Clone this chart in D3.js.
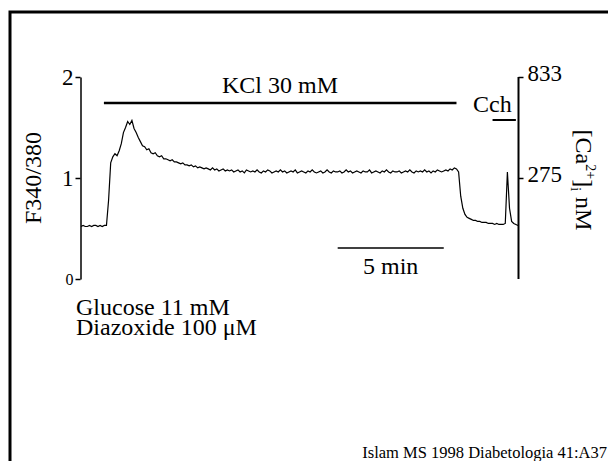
<!DOCTYPE html>
<html>
<head>
<meta charset="utf-8">
<script src="https://cdn.jsdelivr.net/npm/d3@7"></script>
<style>
  body { margin: 0; background: #fff; }
  svg text { font-family: "Liberation Serif", "Times New Roman", serif; fill: #000; }
</style>
</head>
<body>
<div id="chart"></div>
<script>
// sampling interval of the trace (min)
const dt = 0.1;

// F340/380 ratio
const ratio = [
  0.52,0.53,0.52,0.52,0.53,0.52,0.53,0.53,0.52,0.53,0.52,0.53,0.53,
  0.78,1.15,1.21,1.24,1.22,1.27,1.34,1.45,
  1.50,1.56,1.53,1.57,1.49,1.45,1.40,1.36,1.32,1.31,
  1.28,1.29,1.25,1.24,1.25,1.22,1.21,1.22,1.19,1.19,
  1.18,1.17,1.18,1.16,1.16,1.15,1.14,1.15,1.13,1.13,
  1.12,1.13,1.11,1.12,1.10,1.11,1.10,1.09,1.10,1.09,
  1.08,1.10,1.08,1.09,1.07,1.08,1.09,1.07,1.08,1.07,
  1.08,1.06,1.07,1.08,1.06,1.07,1.05,1.08,1.07,1.06,
  1.07,1.06,1.08,1.06,1.05,1.07,1.06,1.08,1.07,1.05,
  1.06,1.07,1.06,1.08,1.06,1.07,1.05,1.06,1.07,1.06,
  1.08,1.05,1.06,1.07,1.06,1.05,1.07,1.06,1.08,1.06,
  1.05,1.06,1.07,1.05,1.06,1.08,1.06,1.05,1.07,1.06,
  1.06,1.07,1.05,1.06,1.08,1.06,1.07,1.05,1.06,1.07,
  1.06,1.05,1.07,1.06,1.06,1.08,1.05,1.06,1.07,1.06,
  1.05,1.07,1.06,1.08,1.06,1.05,1.07,1.06,1.06,1.07,
  1.05,1.06,1.07,1.06,1.08,1.06,1.05,1.07,1.06,1.07,
  1.06,1.08,1.06,1.07,1.05,1.07,1.06,1.08,1.07,1.06,
  1.07,1.08,1.07,1.09,1.08,1.10,1.09,
  1.06,0.82,0.70,0.64,0.61,0.60,0.59,0.58,0.58,0.57,
  0.57,0.56,0.56,0.56,0.55,0.55,0.55,0.54,0.55,0.54,
  0.54,0.54,0.55,1.06,0.70,0.57,0.55,0.54,0.53
];

// left axis ticks (ratio) and right axis ticks ([Ca2+]i nM at same ratio)
const leftTicks = [0, 1, 2];
const leftLabels = ["0", "1", "2"];
const rightTicks = [1, 2];
const rightLabels = ["275", "833"];

// application periods (min)
const kclPeriod = [1.08, 17.7];
const cchPeriod = [19.4, 20.5];
const scaleBar = [12.1, 17.1];

const w = 608, h = 461;
const fs = 24; // main text size

const svg = d3.select("#chart").append("svg")
  .attr("width", w).attr("height", h);

// outer frame (runs off the page at right and bottom)
svg.append("rect")
  .attr("x", 10).attr("y", 12)
  .attr("width", 700).attr("height", 600)
  .attr("fill", "none").attr("stroke", "#000").attr("stroke-width", 3);

const x = d3.scaleLinear().domain([0, 20.6]).range([81, 518]);
const y = d3.scaleLinear().domain([0, 2]).range([279, 77]);

// left axis
const gl = svg.append("g")
  .attr("transform", "translate(80.5,0)")
  .call(d3.axisLeft(y).tickValues(leftTicks)
    .tickFormat((d, i) => leftLabels[i]).tickSize(5).tickSizeOuter(0).tickPadding(2));
gl.select(".domain").attr("stroke-width", 1.5);
gl.selectAll(".tick line").attr("stroke-width", 1.5);
gl.selectAll(".tick text").attr("font-size", 23).attr("font-family", "Liberation Serif");
gl.selectAll(".tick text").filter(d => d === 0)
  .attr("font-size", 16).attr("fill", "#444");

// right axis
const gr = svg.append("g")
  .attr("transform", "translate(518.5,0)")
  .call(d3.axisRight(y).tickValues(rightTicks)
    .tickFormat((d, i) => rightLabels[i]).tickSize(5).tickSizeOuter(0).tickPadding(4));
gr.select(".domain").attr("stroke-width", 2).attr("d", `M0,${y(2)}V${y(0)}`);
gr.selectAll(".tick line").attr("stroke-width", 1.5);
gr.selectAll(".tick text").attr("font-size", 23).attr("font-family", "Liberation Serif")
  .attr("dy", "0.15em");

// trace
const line = d3.line()
  .x((d, i) => x(i * dt))
  .y(d => y(d));
svg.append("path")
  .datum(ratio)
  .attr("d", line)
  .attr("fill", "none")
  .attr("stroke", "#000")
  .attr("stroke-width", 1.2);

// KCl bar
svg.append("line")
  .attr("x1", x(kclPeriod[0])).attr("x2", x(kclPeriod[1]))
  .attr("y1", 103).attr("y2", 103)
  .attr("stroke", "#000").attr("stroke-width", 2.5);
svg.append("text")
  .attr("x", 280).attr("y", 93)
  .attr("text-anchor", "middle").attr("font-size", fs)
  .text("KCl 30 mM");

// Cch bar
svg.append("line")
  .attr("x1", x(cchPeriod[0])).attr("x2", x(cchPeriod[1]))
  .attr("y1", 120).attr("y2", 120)
  .attr("stroke", "#000").attr("stroke-width", 2);
svg.append("text")
  .attr("x", 473).attr("y", 112)
  .attr("font-size", fs)
  .text("Cch");

// 5 min scale bar
svg.append("line")
  .attr("x1", x(scaleBar[0])).attr("x2", x(scaleBar[1]))
  .attr("y1", 248).attr("y2", 248)
  .attr("stroke", "#000").attr("stroke-width", 1.5);
svg.append("text")
  .attr("x", (x(scaleBar[0]) + x(scaleBar[1])) / 2).attr("y", 274)
  .attr("text-anchor", "middle").attr("font-size", fs)
  .text("5 min");

// axis titles
svg.append("text")
  .attr("transform", "translate(41,178) rotate(-90)")
  .attr("text-anchor", "middle").attr("font-size", fs)
  .text("F340/380");

const rt = svg.append("text")
  .attr("transform", "translate(576,180) rotate(90)")
  .attr("text-anchor", "middle").attr("font-size", fs);
rt.append("tspan").text("[Ca");
rt.append("tspan").attr("font-size", 14).attr("dy", -10).text("2+");
rt.append("tspan").attr("dy", 10).text("]");
rt.append("tspan").attr("font-size", 14).attr("dy", 5).text("i");
rt.append("tspan").attr("dy", -5).text(" nM");

// conditions
svg.append("text")
  .attr("x", 76).attr("y", 315).attr("font-size", fs)
  .text("Glucose 11 mM");
svg.append("text")
  .attr("x", 76).attr("y", 335).attr("font-size", fs)
  .text("Diazoxide 100 \u03bcM");

// citation
svg.append("text")
  .attr("x", 607).attr("y", 458).attr("font-size", 16.5)
  .attr("text-anchor", "end")
  .text("Islam MS 1998 Diabetologia 41:A37");
</script>
</body>
</html>
